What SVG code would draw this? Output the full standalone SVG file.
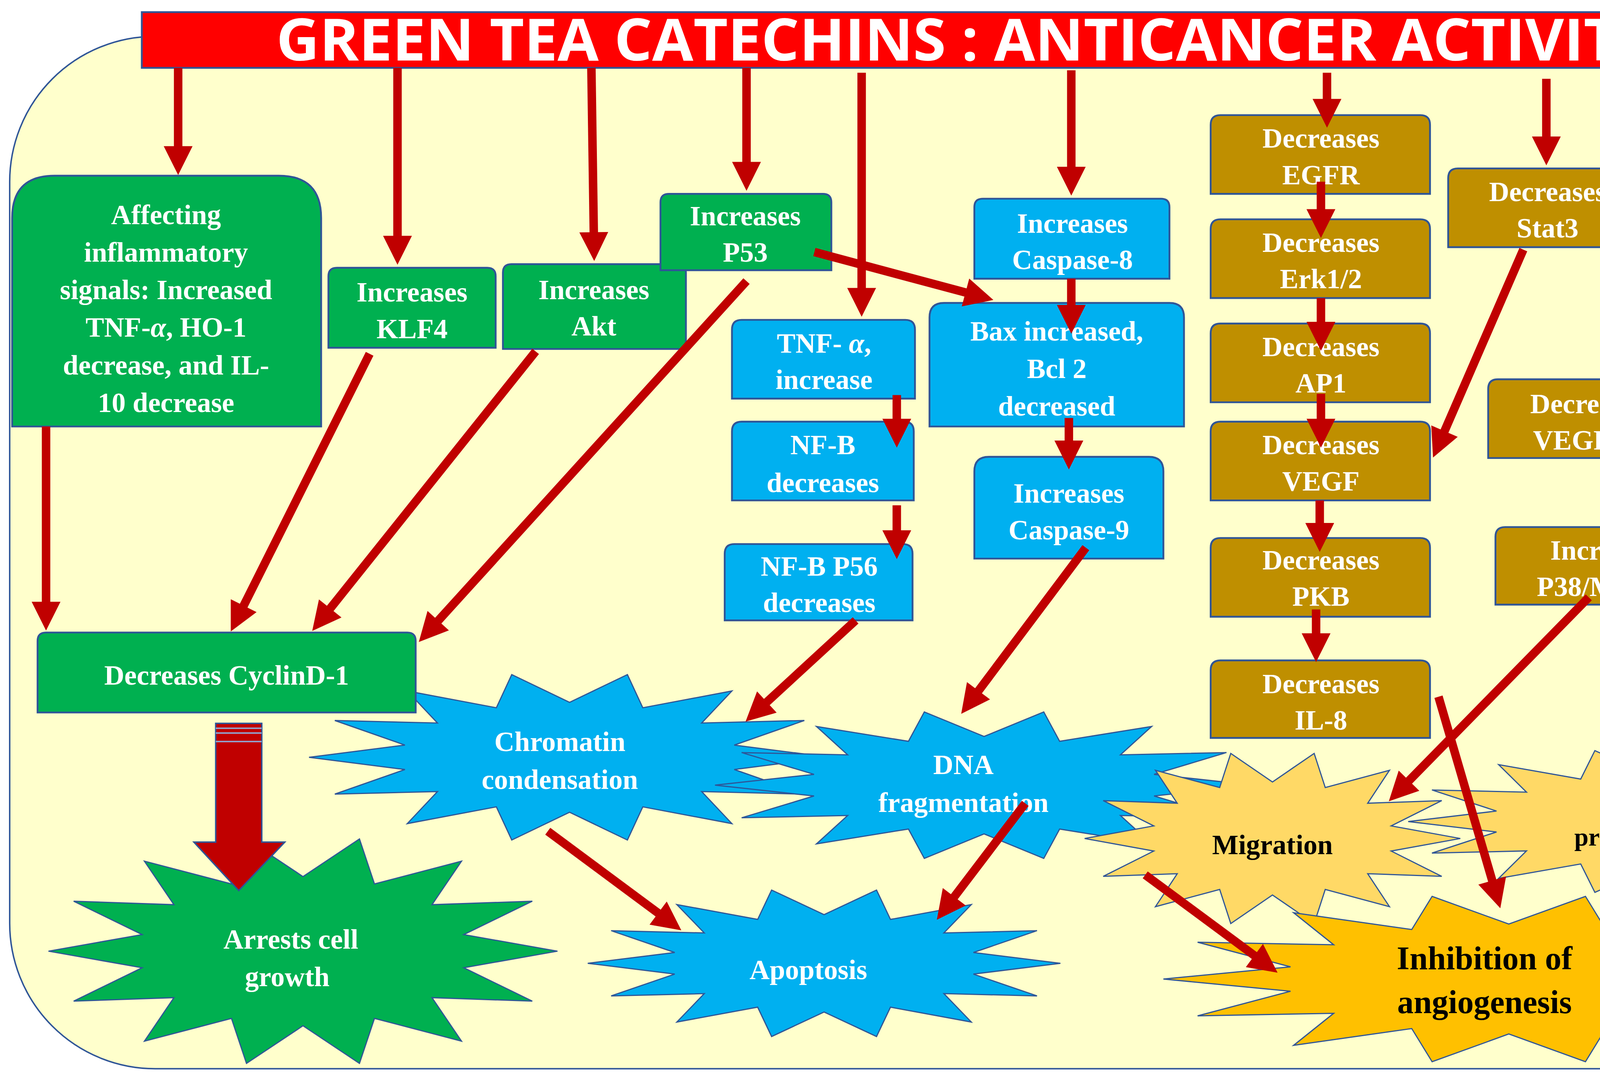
<svg xmlns="http://www.w3.org/2000/svg" xmlns:xlink="http://www.w3.org/1999/xlink" width="4849" height="2755" viewBox="0 0 4849 2755">
<style>
.g{fill:#00B050;stroke:#2F5597;stroke-width:1.5}
.b{fill:#00B0F0;stroke:#2F5597;stroke-width:1.5}
.o{fill:#BF8F00;stroke:#2F5597;stroke-width:1.5}
.t{font-family:"Liberation Serif",serif;font-weight:bold;font-size:23px;fill:#fff;text-anchor:middle}
.tn{font-family:"Liberation Serif",serif;font-size:25px;fill:#fff;text-anchor:middle}
.tk{font-family:"Liberation Serif",serif;font-weight:bold;fill:#000;text-anchor:middle}
.a{stroke:#C00000;stroke-width:7;fill:none;marker-end:url(#ah)}
.st{stroke:#2F5597;stroke-width:3}
</style>
<defs>
<marker id="ah" viewBox="0 0 10 10" refX="1" refY="5" markerWidth="3.5" markerHeight="3.4" orient="auto" markerUnits="strokeWidth"><path d="M0,0 L10,5 L0,10 Z" fill="#C00000"/></marker>
<path id="star" vector-effect="non-scaling-stroke" d="M1,0 L.632,.144 L.901,.434 L.507,.404 L.623,.782 L.281,.584 L.222,.975 L0,.648 L-.222,.975 L-.281,.584 L-.623,.782 L-.507,.404 L-.901,.434 L-.632,.144 L-1,0 L-.632,-.144 L-.901,-.434 L-.507,-.404 L-.623,-.782 L-.281,-.584 L-.222,-.975 L0,-.648 L.222,-.975 L.281,-.584 L.623,-.782 L.507,-.404 L.901,-.434 L.632,-.144 Z"/>
</defs>
<rect width="4849" height="2755" fill="#fff"/>
<g transform="scale(3.1024)">
<rect id="cell" x="8" y="30" width="1550" height="852" rx="120" ry="120" fill="#FFFFCC" stroke="#2F5597" stroke-width="1.2"/>
<g id="title"><rect x="117" y="10" width="1359" height="46" fill="#FF0000" stroke="#2F5597" stroke-width="1.5"/>
<text x="797" y="50" textLength="1138" lengthAdjust="spacingAndGlyphs" font-family="Open Sans,sans-serif" font-weight="bold" font-size="48" fill="#fff" text-anchor="middle">GREEN TEA CATECHINS : ANTICANCER ACTIVITY</text></g>

<g id="stars">
<g id="arrests"><use xlink:href="#star" class="g st" transform="translate(250,785) scale(210,95)"/><text class="t" x="240" y="783">Arrests cell</text><text class="t" x="237" y="814">growth</text></g>
<g id="chromatin"><use xlink:href="#star" class="b st" transform="translate(470,625) scale(215,70)"/><text class="t" x="462" y="620">Chromatin</text><text class="t" x="462" y="651">condensation</text></g>
<g id="dna"><use xlink:href="#star" class="b st" transform="translate(812,648) scale(222,62)"/><text class="t" x="795" y="639">DNA</text><text class="t" x="795" y="670">fragmentation</text></g>
<g id="apoptosis"><use xlink:href="#star" class="b st" transform="translate(680,795) scale(195,62)"/><text class="t" x="667" y="808">Apoptosis</text></g>
<g id="migration"><use xlink:href="#star" style="fill:#FFD966" class="st" transform="translate(1050,692) scale(155,72)"/><text class="tk" font-size="23" x="1050" y="705">Migration</text></g>
<g id="prolif"><use xlink:href="#star" style="fill:#FFD966" class="st" transform="translate(1360,678) scale(198,60)"/><text class="tk" font-size="21" x="1356" y="671">Cell</text><text class="tk" font-size="21" x="1356" y="698">proliferation</text></g>
<g id="angio"><use xlink:href="#star" style="fill:#FFC000" class="st" transform="translate(1245,808) scale(285,70)"/><text class="tk" font-size="27" x="1225" y="800">Inhibition of</text><text class="tk" font-size="27" x="1225" y="836">angiogenesis</text></g>
</g>

<g id="n-affecting"><path class="g" d="M10,352 V180 Q10,145 45,145 H230 Q265,145 265,180 V352 Z"/>
<text class="t" x="137" y="185">Affecting</text><text class="t" x="137" y="216">inflammatory</text><text class="t" x="137" y="247">signals: Increased</text><text class="t" x="137" y="278">TNF-<tspan font-style="italic">α</tspan>,  HO-1</text><text class="t" x="137" y="309">decrease, and IL-</text><text class="t" x="137" y="340">10 decrease</text></g>
<g id="n-klf4"><path class="g" d="M271,287 V228 Q271,221 278,221 H402 Q409,221 409,228 V287 Z"/><text class="t" x="340" y="249">Increases</text><text class="t" x="340" y="279">KLF4</text></g>
<g id="n-akt"><path class="g" d="M415,288 V225 Q415,218 422,218 H559 Q566,218 566,225 V288 Z"/><text class="t" x="490" y="247">Increases</text><text class="t" x="490" y="277">Akt</text></g>
<g id="n-p53"><path class="g" d="M545,223 V167 Q545,160 552,160 H679 Q686,160 686,167 V223 Z"/><text class="t" x="615" y="186">Increases</text><text class="t" x="615" y="216">P53</text></g>
<g id="n-cyclin"><path class="g" d="M31,588 V529 Q31,522 38,522 H336 Q343,522 343,529 V588 Z"/><text class="t" x="187" y="565">Decreases CyclinD-1</text></g>

<g id="n-casp8"><path class="b" d="M804,230 V171 Q804,164 811,164 H958 Q965,164 965,171 V230 Z"/><text class="t" x="885" y="192">Increases</text><text class="t" x="885" y="222">Caspase-8</text></g>
<g id="n-bax"><path class="b" d="M767,352 V262 Q767,250 779,250 H965 Q977,250 977,262 V352 Z"/><text class="t" x="872" y="281">Bax increased,</text><text class="t" x="872" y="312">Bcl 2</text><text class="t" x="872" y="343">decreased</text></g>
<g id="n-casp9"><path class="b" d="M804,461 V389 Q804,377 816,377 H948 Q960,377 960,389 V461 Z"/><text class="t" x="882" y="415">Increases</text><text class="t" x="882" y="445">Caspase-9</text></g>
<g id="n-tnf"><path class="b" d="M604,329 V272 Q604,264 612,264 H747 Q755,264 755,272 V329 Z"/><text class="t" x="680" y="291">TNF- <tspan font-style="italic">α</tspan>,</text><text class="t" x="680" y="321">increase</text></g>
<g id="n-nfb"><path class="b" d="M604,413 V356 Q604,348 612,348 H746 Q754,348 754,356 V413 Z"/><text class="t" x="679" y="375">NF-B</text><text class="t" x="679" y="406">decreases</text></g>
<g id="n-p56"><path class="b" d="M598,512 V457 Q598,449 606,449 H745 Q753,449 753,457 V512 Z"/><text class="t" x="676" y="475">NF-B P56</text><text class="t" x="676" y="505">decreases</text></g>

<g id="n-egfr"><path class="o" d="M999,160 V103 Q999,95 1007,95 H1172 Q1180,95 1180,103 V160 Z"/><text class="t" x="1090" y="122">Decreases</text><text class="t" x="1090" y="152">EGFR</text></g>
<g id="n-erk"><path class="o" d="M999,246 V189 Q999,181 1007,181 H1172 Q1180,181 1180,189 V246 Z"/><text class="t" x="1090" y="208">Decreases</text><text class="t" x="1090" y="238">Erk1/2</text></g>
<g id="n-ap1"><path class="o" d="M999,332 V275 Q999,267 1007,267 H1172 Q1180,267 1180,275 V332 Z"/><text class="t" x="1090" y="294">Decreases</text><text class="t" x="1090" y="324">AP1</text></g>
<g id="n-vegf"><path class="o" d="M999,413 V356 Q999,348 1007,348 H1172 Q1180,348 1180,356 V413 Z"/><text class="t" x="1090" y="375">Decreases</text><text class="t" x="1090" y="405">VEGF</text></g>
<g id="n-pkb"><path class="o" d="M999,509 V452 Q999,444 1007,444 H1172 Q1180,444 1180,452 V509 Z"/><text class="t" x="1090" y="470">Decreases</text><text class="t" x="1090" y="500">PKB</text></g>
<g id="n-il8"><path class="o" d="M999,609 V553 Q999,545 1007,545 H1172 Q1180,545 1180,553 V609 Z"/><text class="t" x="1090" y="572">Decreases</text><text class="t" x="1090" y="602">IL-8</text></g>
<g id="n-stat3"><path class="o" d="M1195,204 V147 Q1195,139 1203,139 H1349 Q1357,139 1357,147 V204 Z"/><text class="t" x="1277" y="166">Decreases</text><text class="t" x="1277" y="196">Stat3</text></g>
<g id="n-vegfr2"><path class="o" d="M1228,378 V321 Q1228,313 1236,313 H1356 Q1364,313 1364,321 V378 Z"/><text class="t" x="1311" y="341">Decreases</text><text class="t" x="1311" y="371">VEGFR2</text></g>
<g id="n-p38"><path class="o" d="M1234,499 V443 Q1234,435 1242,435 H1408 Q1416,435 1416,443 V499 Z"/><text class="t" x="1325" y="462">Increases</text><text class="t" x="1325" y="492">P38/MAPK</text></g>
<g id="n-igfr"><path class="o" d="M1377,293 V235 Q1377,227 1385,227 H1549 Q1557,227 1557,235 V293 Z"/><text class="tn" x="1467" y="254">Decreases</text><text class="tn" x="1467" y="288">IGFR/Ras</text></g>
<g id="n-mapk"><path class="o" d="M1362,611 V554 Q1362,546 1370,546 H1536 Q1544,546 1544,554 V611 Z"/><text class="tn" x="1453" y="573">Increases</text><text class="tn" x="1453" y="604">MAPK</text></g>

<g id="connectors">
<path class="a" d="M147,56 V123"/>
<path class="a" d="M328,56 V197"/>
<path class="a" d="M488,56 L490,194"/>
<path class="a" d="M616,56 V136"/>
<path class="a" d="M711,60 V240"/>
<path class="a" d="M884,58 V140"/>
<path class="a" d="M1095,60 V84"/>
<path class="a" d="M1276,65 V115"/>
<path class="a" d="M1363,56 L1359,286"/>
<path class="a" d="M1441,56 V204"/>
<path class="a" d="M1441,298 V523"/>
<path class="a" d="M1355,386 V414"/>
<path class="a" d="M38,352 V499"/>
<path class="a" d="M305,292 L200,502"/>
<path class="a" d="M442,290 L271,504"/>
<path class="a" d="M616,232 L360,514"/>
<path class="a" d="M672,208 L799,242"/>
<path class="a" d="M884,230 V254"/>
<path class="a" d="M882,345 V366"/>
<path class="a" d="M740,326 V348"/>
<path class="a" d="M740,417 V440"/>
<path class="a" d="M706,512 L631,581"/>
<path class="a" d="M896,452 L806,572"/>
<path class="a" d="M452,686 L545,755"/>
<path class="a" d="M846,663 L786,742"/>
<path class="a" d="M1090,150 V175"/>
<path class="a" d="M1090,246 V268"/>
<path class="a" d="M1090,325 V348"/>
<path class="a" d="M1089,413 V434"/>
<path class="a" d="M1086,503 V525"/>
<path class="a" d="M1257,206 L1191,358"/>
<path class="a" d="M1187,575 L1232,729"/>
<path class="a" d="M1311,493 L1161,646"/>
<path class="a" d="M1444,612 L1428,645"/>
<path class="a" d="M945,722 L1037,790"/>
<path class="a" d="M1485,703 L1425,780"/>
<g id="block-arrow">
<path d="M178,597 H216 V695 H235 L197,735 L160,695 H178 Z" fill="#C00000" stroke="#2F5597" stroke-width="1.2"/>
<path d="M178,601 H216 M178,605 H216 M178,612 H216" stroke="#8FA7D4" stroke-width="1.2"/>
</g>
</g>
</g>
</svg>
